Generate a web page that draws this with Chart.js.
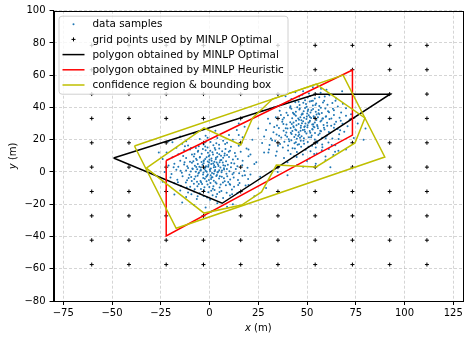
<!DOCTYPE html>
<html>
<head>
<meta charset="utf-8">
<script src="https://cdn.jsdelivr.net/npm/chart.js@4"></script>
<style>body{margin:0;background:#fff}canvas{display:block}</style>
</head>
<body>
<canvas id="c" width="468" height="337"></canvas>
<script>
// tick labels
const xTicks = [-75, -50, -25, 0, 25, 50, 75, 100, 125];
const yTicks = [-80, -60, -40, -20, 0, 20, 40, 60, 80, 100];

// candidate grid (x columns, y rows)
const gridX = [-60.4, -41.3, -22.2, -3.1, 16.0, 35.1, 54.2, 73.3, 92.4, 111.5];
const gridY = [78.5, 63.4, 48.3, 33.2, 18.1, 3.0, -12.1, -27.2, -42.3, -57.4];

// polygons (vertices)
const optimalPoly = [[-49.2, 8.7], [54.4, 48.2], [92.6, 48.2], [6.5, -19.4]];
const heuristicPoly = [[-22.2, 7.1], [73.3, 63.2], [73.3, 22.9], [-22.2, -39.7]];
const confidencePoly = [[-32.4, 2.4], [-2.8, 27.3], [16.0, 16.7], [22.1, 33.5], [32.3, 45.2], [54.7, 54.5],
  [79.7, 33.5], [74.6, 18.0], [54.7, 3.1], [34.3, 4.3], [26.7, -12.4], [16.5, -20.5], [-2.8, -25.5]];
const boundingBox = [[-38.5, 16.1], [68.5, 60.1], [89.9, 9.3], [-17.1, -34.9]];

// data samples, first cluster (around origin)
const samplesA = [
  [-8,24],[3,25.5],[10,23],[-2,22.4],[14,26],[-15,22],
  [-12,19],[-5,20.5],[0.5,18.6],[4,21],[7,19.3],[12,20],[-19,18.4],[17,21.5],[-1,21.2],[9,18.1],
  [-17,15],[-11,16.4],[-7,14.8],[-3,17],[-1,15.2],[2,16.6],[5,14.5],[8,17.3],[11,15.6],[15,16.2],[19,14.6],[-14,17.5],[3.5,17.8],[-5.5,16],
  [-22,12],[-16,11],[-13,13.4],[-9,10.8],[-6,12.6],[-4,11.3],[-2,13.5],[0,10.4],[1.5,12.2],[3,13.8],[5,11],[6.5,12.9],[9,10.6],[10.5,13.1],[13,11.8],[16,12.5],[21,10.9],[-10,13.9],[7.7,10.2],[-0.8,11.9],
  [-24,8],[-19,9.2],[-15,7],[-12,8.7],[-10,6.4],[-8,9.6],[-6.5,7.5],[-5,8.9],[-3,6.8],[-1.5,9.1],[0,7.6],[1,8.4],[2.5,6.3],[4,9.5],[5.5,7.2],[7,8.8],[8.5,6.6],[10,9.3],[12,7.8],[14.5,8.1],[17,6.9],[20,9.7],[-13.5,9.9],[3.2,7.9],[-2.2,8.1],
  [-21,4],[-18,5.1],[-16,3.2],[-13,4.6],[-11,2.5],[-9,5.7],[-7.5,3.8],[-6,4.9],[-4.5,2.8],[-3,5.4],[-1.8,3.6],[-0.5,4.4],[0.7,2.2],[1.9,5.2],[3,3.1],[4.3,4.8],[5.6,2.7],[6.8,5.9],[8,3.9],[9.4,4.5],[11,2.9],[12.7,5.3],[14.3,3.5],[16.8,4.2],[19.5,2.6],[23,4.9],[-0.2,5.8],[2.4,4.1],[-5.2,3.3],[7.4,2.3],
  [-23,0],[-19.5,-1.2],[-17,1.4],[-14.2,-0.5],[-12,0.9],[-10.3,-1.7],[-8.6,1.8],[-7,0.2],[-5.7,-1],[-4.4,1.2],[-3.1,-0.3],[-2,0.8],[-0.9,-1.5],[0.2,1.6],[1.3,-0.6],[2.6,0.5],[3.8,-1.8],[5,1.1],[6.2,-0.2],[7.5,1.5],[8.7,-1.1],[10.2,0.4],[11.8,-1.4],[13.5,1.9],[15.2,-0.8],[17.8,0.6],[21,-1.6],[-1.4,0.1],[4.4,0.2],[-6.3,1.7],
  [-20,-3.5],[-16.5,-4.8],[-13.8,-2.6],[-11.5,-5.2],[-9.4,-3.1],[-7.8,-4.4],[-6.1,-2.3],[-4.6,-5.6],[-3.2,-3.8],[-1.7,-2.9],[-0.3,-4.9],[1,-3.3],[2.2,-5.4],[3.5,-2.5],[4.9,-4.1],[6.3,-3],[7.8,-5.8],[9.1,-2.7],[10.6,-4.6],[12.4,-3.4],[14.6,-5],[16.9,-2.4],[19.8,-4.3],[-2.4,-4.2],[0.6,-2.1],
  [-18,-7],[-14.7,-8.6],[-12.1,-6.5],[-9.9,-9.2],[-8,-7.3],[-6.2,-8.8],[-4.3,-6.4],[-2.6,-9.5],[-1,-7.7],[0.5,-6.8],[2,-8.9],[3.6,-7.1],[5.2,-9.7],[6.9,-6.6],[8.4,-8.2],[10.3,-7.5],[12.6,-9.1],[15.4,-6.9],[18.5,-8.4],[-5.5,-7.5],
  [-15,-11.5],[-11,-12.8],[-7.6,-10.7],[-5,-13.2],[-2.8,-11.3],[-0.6,-12.5],[1.7,-10.4],[3.9,-13.6],[6.1,-11.8],[8.8,-12.9],[11.5,-10.9],[14.3,-13.1],[-9.3,-13.8],[0.9,-11.6],
  [-12,-15.5],[-6.5,-16.8],[-3,-14.9],[0.3,-17.2],[3.4,-15.3],[7,-16.1],[10.5,-14.6],[-1.2,-15.8],
  [-8,-20.5],[-2,-22],[4,-19.4],[9,-21.6],[1,-24.5],[-14,-19]
];
// denser core of the first cluster
const samplesA2 = [
  [-6.8,3.1],[-4.1,6.2],[-2.5,1.9],[-0.7,3.3],[1.1,6.9],[2.9,1.2],[4.6,3.7],[6.1,7.4],[-8.3,6.6],[-5.4,-0.4],
  [-3.6,4.5],[-1.2,-2.3],[0.9,4.9],[2.2,-1.1],[3.7,5.9],[5.3,-2.6],[7.1,4.1],[8.9,1.8],[-9.6,0.3],[-7.2,-2.8],
  [-4.9,9.3],[-2.9,7.1],[-0.4,9.8],[1.8,10.9],[3.3,8.8],[5.9,10.1],[7.8,11.5],[-7.7,11.2],[-5.8,13.1],[-3.4,14.2],
  [0.4,13.2],[2.7,14.9],[-9.1,-5.6],[-6.4,-6.1],[-3.8,-7.4],[-1.5,-5.8],[0.8,-4.4],[3.1,-6.3],[5.7,-7.8],[7.4,-3.9],
  [9.6,-6.2],[-11.4,3.6],[-12.8,6.1],[-10.7,-3.8],[11.2,5.6],[12.4,-0.5],[10.6,-7.9],[-4.4,-10.6],[-0.1,-9.3],[2.6,-11.2],
  [5.1,-12.4],[-7.9,-12.1],[-2.2,15.8],[4.9,16.9],[-9.5,14.8],[8.2,14.3],[-14.8,0.8],[-16.2,-6.3],[14.7,-8.1],[13.4,9.8],
  [-1.9,18.7],[1.6,-14.4],[-6.1,-15.1],[-4.7,0.9],[-2.1,2.7],[0.3,0.6],[2.2,2.9],[4.1,-0.4],[-8.8,2.2],[-0.9,6.5],
  [3.9,11.8],[6.4,0.9],[-3.3,-1.6],[1.5,-3.2],[-6.9,8.2],[5.2,6.1],[-11.7,-9.7],[9.9,12.6],[-18.4,2.9],[18.2,-2.1],
  [11.6,-13.8],[-12.6,15.9]
];

// data samples, second cluster
const samplesB = [
  [48,50],[53,52.5],[57,49.2],[60,51],[51,48.6],[55.5,53.4],[44,49.5],[62,48.3],
  [42,45.2],[46,46.8],[49,44.5],[51.5,47.1],[54,45.6],[56.3,46.4],[58.8,44.2],[61.5,47.6],[47.6,47.9],[53,44.1],[65,45.5],[39,47],
  [38,42],[41.5,40.8],[44,43.3],[46.2,41.6],[48.1,42.9],[49.8,40.4],[51.4,43.7],[53,41.2],[54.7,42.5],[56.3,40.9],[58.2,43.1],[60.5,41.7],[63,42.8],[65.8,40.6],[45,40.1],[52.2,44],
  [36,38],[39.5,36.7],[42,39.2],[44.3,37.4],[46.1,38.8],[47.6,36.3],[49,39.6],[50.4,37.8],[51.8,36.9],[53.1,39.1],[54.5,37.3],[56,38.5],[57.6,36.6],[59.4,39.4],[61.3,37.1],[63.8,38.2],[67.5,36.9],[43.2,36.1],[52.3,38.3],[48.3,37.6],[70,39.5],
  [34,34],[37.5,32.6],[40.2,35.1],[42.4,33.3],[44.3,34.8],[45.9,32.4],[47.2,35.5],[48.5,33.7],[49.7,32.9],[50.9,35.2],[52.1,33.5],[53.4,34.6],[54.8,32.2],[56.3,35.8],[57.9,33.1],[59.6,34.3],[61.5,32.8],[63.8,35.4],[66.7,33.6],[70,34.9],[46.6,33.9],[51.5,34.1],[43.6,35.7],[55.6,33.9],
  [31,30],[34.6,28.8],[37.3,31.2],[39.5,29.4],[41.4,30.9],[43,28.3],[44.4,31.7],[45.7,29.8],[46.9,28.6],[48,31.4],[49.2,30.1],[50.3,28.9],[51.5,31.8],[52.7,29.5],[54,30.7],[55.4,28.4],[56.9,31.3],[58.5,29.2],[60.3,30.5],[62.4,28.7],[64.9,31.1],[68.2,29.9],[47.4,30.2],[42.2,29.7],[53.3,28.2],[50.8,30.6],
  [29,26],[32.8,24.7],[35.6,27.3],[38,25.5],[40,26.9],[41.7,24.3],[43.2,27.7],[44.5,25.8],[45.7,24.6],[46.8,27.4],[47.9,26.1],[49,24.9],[50.2,27.8],[51.4,25.4],[52.7,26.6],[54.1,24.2],[55.6,27.1],[57.2,25.2],[59,26.4],[61.2,24.8],[63.8,27.5],[67,25.9],[48.6,27.9],[44,26.3],[53.8,27.7],
  [28,22],[31.5,20.8],[34.4,23.2],[36.8,21.4],[38.9,22.8],[40.6,20.3],[42.1,23.6],[43.5,21.7],[44.8,20.6],[46,23.3],[47.2,22.1],[48.4,20.9],[49.7,23.8],[51,21.5],[52.4,22.6],[54,20.2],[55.8,23],[57.8,21.2],[60.1,22.4],[63,20.7],[66.5,23.4],[45.5,22.3],[39.8,21.9],
  [27,18],[30.8,16.7],[33.7,19.2],[36.2,17.3],[38.4,18.8],[40.3,16.4],[42,19.6],[43.6,17.8],[45.2,16.9],[46.8,19.3],[48.5,17.5],[50.4,18.6],[52.6,16.2],[55,19],[57.8,17.1],[61,18.3],[64.5,16.6],[44.3,18.4],
  [30.5,14],[34.5,12.7],[37.6,15.1],[40.3,13.3],[42.6,14.7],[44.8,12.4],[47,15.6],[49.3,13.8],[51.8,12.9],[54.5,15.2],[57.6,13.5],[61.2,14.3],[64.4,12.6],
  [34,10],[38.2,8.7],[41.6,11.1],[44.7,9.3],[47.9,10.8],[51.3,8.4],[55,11.4],[59.5,9.6],[63.5,10.5],
  [40,6],[45,4.3],[50,6.8],[54.5,5.1],[59.5,7.2],[48,3.2]
];
// denser core of the second cluster
const samplesB2 = [
  [44.2,23.1],[46.7,25.6],[48.9,28.3],[51.3,31.2],[53.6,33.8],[55.9,36.4],[43.1,30.7],[45.5,33.2],[47.8,35.9],[50.6,38.7],
  [52.9,26.4],[55.2,29.1],[57.4,31.9],[59.8,34.6],[41.6,27.2],[39.4,24.5],[37.9,29.8],[42.8,36.8],[46.3,39.3],[49.5,42.1],
  [54.3,41.5],[57.1,39.9],[60.8,37.6],[62.5,33.2],[64.1,29.6],[58.7,27.4],[56.5,23.8],[52.1,21.6],[48.2,19.4],[45.9,17.2],
  [50.8,15.7],[55.3,18.2],[59.6,20.9],[61.9,24.3],[65.7,26.7],[67.3,31.8],[38.2,33.6],[35.7,22.4],[40.9,19.1],[43.8,14.6],
  [53.7,11.2],[57.9,15.4],[62.7,16.8],[66.2,20.4],[69.1,24.9],[70.8,28.3],[71.9,32.6],[64.6,44.1],[59.1,46.8],[50.3,46.2],
  [45.7,43.6],[41.3,39.8],[36.6,35.4],[33.2,27.9],[32.1,19.6],[47.1,32.1],[49.9,34.4],[44.6,28.9],[51.7,24.3],[54.9,35.7],
  [58.2,33.1],[46.4,21.3],[53.2,29.6],[48.7,26.2],[56.8,25.6],[42.5,25.4],[50.1,36.2],[60.4,28.7],[39.1,27.1],[63.3,39.2],
  [35.1,16.3],[68.4,42.3],[30.2,12.1],[72.6,35.8],[57.2,51.6],[43.4,9.8],[66.1,13.1]
];

// scattered samples between and around the clusters
const samplesC = [
  [22,20],[25,27],[18,28],[28,12],[24,6],[30,33],[26,-3],[20,-8],[33,40],[27,38],[15,30],[35,0],
  [62,3],[70,14],[74,21],[79,20],[76,30],[-21,19],[-24,-6],[29,-10],[40,-2],[12,-20],[-18,-14],
  [20,14],[23,-15],[68,50],[35,48],[15,23],[80,27],[-26,12]
];

const legendLabels = [
  'data samples',
  'grid points used by MINLP Optimal',
  'polygon obtained by MINLP Optimal',
  'polygon obtained by MINLP Heuristic',
  'confidence region & bounding box'
];

function pts(arr) { return arr.map(p => ({ x: p[0], y: p[1] })); }
function closed(arr) { return pts(arr.concat([arr[0]])); }

const gridPts = [];
gridY.forEach(y => gridX.forEach(x => gridPts.push({ x: x, y: y })));

const FONT = 'DejaVu Sans';

// matplotlib style legend in the upper left corner
const legendBox = {
  id: 'legendBox',
  afterDraw(chart) {
    const ctx = chart.ctx;
    const a = chart.chartArea;
    const bx = a.left + 5, by = a.top + 5, bw = 229, bh = 78;
    ctx.save();
    ctx.fillStyle = 'rgba(255,255,255,0.8)';
    ctx.strokeStyle = '#d0d0d0';
    ctx.lineWidth = 1;
    ctx.beginPath();
    ctx.roundRect(bx + 0.5, by + 0.5, bw, bh, 3);
    ctx.fill();
    ctx.stroke();
    ctx.font = '10.4px "' + FONT + '"';
    ctx.textBaseline = 'middle';
    let row = 0;
    chart.data.datasets.forEach(ds => {
      if (ds.legend === false) return;
      const cy = by + 8.5 + row * 15.2;
      const hx = bx + 4, hw = 22;
      if (ds.showLine) {
        ctx.strokeStyle = ds.borderColor;
        ctx.lineWidth = ds.borderWidth;
        ctx.beginPath();
        ctx.moveTo(hx, cy);
        ctx.lineTo(hx + hw, cy);
        ctx.stroke();
      } else if (ds.pointStyle === 'cross') {
        ctx.strokeStyle = ds.borderColor;
        ctx.lineWidth = 1;
        ctx.beginPath();
        ctx.moveTo(hx + hw / 2 - 2, cy); ctx.lineTo(hx + hw / 2 + 2, cy);
        ctx.moveTo(hx + hw / 2, cy - 2); ctx.lineTo(hx + hw / 2, cy + 2);
        ctx.stroke();
      } else {
        ctx.fillStyle = ds.backgroundColor;
        ctx.beginPath();
        ctx.arc(hx + hw / 2, cy, 1, 0, Math.PI * 2);
        ctx.fill();
      }
      ctx.fillStyle = '#000';
      ctx.fillText(legendLabels[row], bx + 34, cy + 0.5);
      row++;
    });
    ctx.restore();
  }
};

// top/right spines and the axis titles with italic variable names
const frame = {
  id: 'frame',
  afterDraw(chart) {
    const ctx = chart.ctx;
    const a = chart.chartArea;
    ctx.save();
    ctx.strokeStyle = '#000';
    ctx.lineWidth = 1;
    ctx.strokeRect(Math.round(a.left) + 0.5, Math.round(a.top) + 0.5,
      Math.round(a.right - a.left) - 1, Math.round(a.bottom - a.top));
    ctx.fillStyle = '#000';
    ctx.textBaseline = 'middle';
    const it = 'italic 10px "' + FONT + '"', nm = '10px "' + FONT + '"';
    function title(v, cx, cy, rot) {
      ctx.save();
      ctx.translate(cx, cy);
      ctx.rotate(rot);
      ctx.font = it; const w1 = ctx.measureText(v).width;
      ctx.font = nm; const w2 = ctx.measureText(' (m)').width;
      const x0 = -(w1 + w2) / 2;
      ctx.font = it; ctx.fillText(v, x0, 0);
      ctx.font = nm; ctx.fillText(' (m)', x0 + w1, 0);
      ctx.restore();
    }
    title('x', (a.left + a.right) / 2, 328, 0);
    title('y', 13, (a.top + a.bottom) / 2, -Math.PI / 2);
    ctx.restore();
  }
};

const minus = v => String(v).replace('-', '\u2212');
const gridStyle = {
  color: 'rgba(150,150,150,0.5)', lineWidth: 0.8,
  tickColor: '#000', tickBorderDash: [], tickWidth: 1, tickLength: 4
};
const axisBorder = { color: '#000', width: 1, dash: [3, 2] };

new Chart(document.getElementById('c'), {
  type: 'scatter',
  data: {
    datasets: [
      { label: legendLabels[0], data: pts(samplesA.concat(samplesA2, samplesB, samplesB2, samplesC)),
        backgroundColor: '#1f77b4', borderWidth: 0, pointRadius: 1, order: 6 },
      { label: legendLabels[1], data: gridPts, pointStyle: 'cross', borderColor: '#000', backgroundColor: '#000',
        borderWidth: 1, pointRadius: 2, order: 5 },
      { label: legendLabels[2], data: closed(optimalPoly), showLine: true, borderColor: '#000', borderWidth: 1.5,
        pointRadius: 0, order: 4 },
      { label: legendLabels[3], data: closed(heuristicPoly), showLine: true, borderColor: '#ff0000', borderWidth: 1.5,
        pointRadius: 0, order: 3 },
      { label: legendLabels[4], data: closed(confidencePoly), showLine: true, borderColor: '#bfbf00', borderWidth: 1.5,
        pointRadius: 0, order: 2 },
      { label: 'bounding box', legend: false, data: closed(boundingBox), showLine: true, borderColor: '#bfbf00',
        borderWidth: 1.5, pointRadius: 0, order: 1 }
    ]
  },
  options: {
    responsive: false,
    animation: false,
    layout: { padding: { top: 10.7, right: 2.2, left: 0, bottom: 0 } },
    plugins: { legend: { display: false }, tooltip: { enabled: false } },
    scales: {
      x: {
        type: 'linear', min: -80, max: 130,
        afterBuildTicks: s => { s.ticks = xTicks.map(v => ({ value: v })); },
        afterFit: s => { s.height = 36; },
        ticks: { callback: minus, color: '#000', font: { family: FONT, size: 10 }, padding: 2, maxRotation: 0 },
        grid: gridStyle,
        border: axisBorder
      },
      y: {
        type: 'linear', min: -80, max: 100,
        afterBuildTicks: s => { s.ticks = yTicks.map(v => ({ value: v })); },
        afterFit: s => { s.width = 53.5; },
        ticks: { callback: minus, color: '#000', font: { family: FONT, size: 10 }, padding: 4 },
        grid: gridStyle,
        border: axisBorder
      }
    }
  },
  plugins: [legendBox, frame]
});
</script>
</body>
</html>
